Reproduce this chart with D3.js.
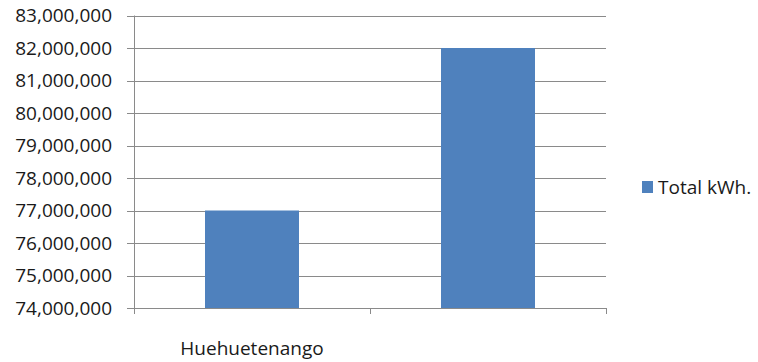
<!DOCTYPE html>
<html>
<head>
<meta charset="utf-8">
<script src="https://cdn.jsdelivr.net/npm/d3@7"></script>
<style>
  html, body { margin: 0; padding: 0; background: #fff; }
  svg { display: block; }
  text { font-family: "Open Sans", "Noto Sans", sans-serif; fill: #1a1a1a; }
</style>
</head>
<body>
<svg id="chart" width="758" height="362"></svg>
<script>
// Energy consumption per department (kWh)
const categories = ["Huehuetenango", ""];
const totalKwh = [77000000, 82000000];
const seriesName = "Total kWh.";
const yTicks = [74000000, 75000000, 76000000, 77000000, 78000000, 79000000, 80000000, 81000000, 82000000, 83000000];

const svg = d3.select("#chart");
const plot = { left: 134, right: 606, top: 15.5, bottom: 308 };

const x = d3.scaleBand()
  .domain(d3.range(categories.length))
  .range([plot.left, plot.right])
  .paddingInner(0)
  .paddingOuter(0);

const y = d3.scaleLinear()
  .domain([74000000, 83000000])
  .range([plot.bottom, plot.top]);

const fmt = d3.format(",");
const grid = "#8a8a8a";

// Horizontal gridlines with left tick marks
svg.append("g")
  .selectAll("line")
  .data(yTicks)
  .join("line")
  .attr("x1", plot.left - 7)
  .attr("x2", plot.right)
  .attr("y1", d => Math.round(y(d)) + 0.5)
  .attr("y2", d => Math.round(y(d)) + 0.5)
  .attr("stroke", grid)
  .attr("stroke-width", 1);

// Y tick labels
svg.append("g")
  .selectAll("text")
  .data(yTicks)
  .join("text")
  .attr("x", 112)
  .attr("y", d => y(d))
  .attr("dy", "0.35em")
  .attr("text-anchor", "end")
  .attr("font-size", 19)
  .text(d => fmt(d));

// Bars
const barW = 94;
svg.append("g")
  .selectAll("rect")
  .data(totalKwh)
  .join("rect")
  .attr("x", (d, i) => x(i) + x.bandwidth() / 2 - barW / 2)
  .attr("y", d => y(d))
  .attr("width", barW)
  .attr("height", d => plot.bottom - y(d))
  .attr("fill", "#4f81bd");

// Vertical axis line
svg.append("line")
  .attr("x1", plot.left + 0.5).attr("x2", plot.left + 0.5)
  .attr("y1", plot.top).attr("y2", plot.bottom + 0.5)
  .attr("stroke", grid);

// Category boundary ticks below the axis
const bounds = d3.range(categories.length + 1).map(i => plot.left + i * x.bandwidth());
svg.append("g")
  .selectAll("line")
  .data(bounds)
  .join("line")
  .attr("x1", d => Math.round(d) + 0.5)
  .attr("x2", d => Math.round(d) + 0.5)
  .attr("y1", plot.bottom)
  .attr("y2", plot.bottom + 6)
  .attr("stroke", grid);

// Category labels
svg.append("g")
  .selectAll("text")
  .data(categories)
  .join("text")
  .attr("x", (d, i) => x(i) + x.bandwidth() / 2)
  .attr("y", 355)
  .attr("text-anchor", "middle")
  .attr("font-size", 19)
  .text(d => d);

// Legend
const legend = svg.append("g").attr("transform", "translate(642,181)");
legend.append("rect").attr("width", 11).attr("height", 12).attr("fill", "#4f81bd");
legend.append("text")
  .attr("x", 16).attr("y", 6).attr("dy", "0.35em")
  .attr("font-size", 19)
  .text(seriesName);
</script>
</body>
</html>
